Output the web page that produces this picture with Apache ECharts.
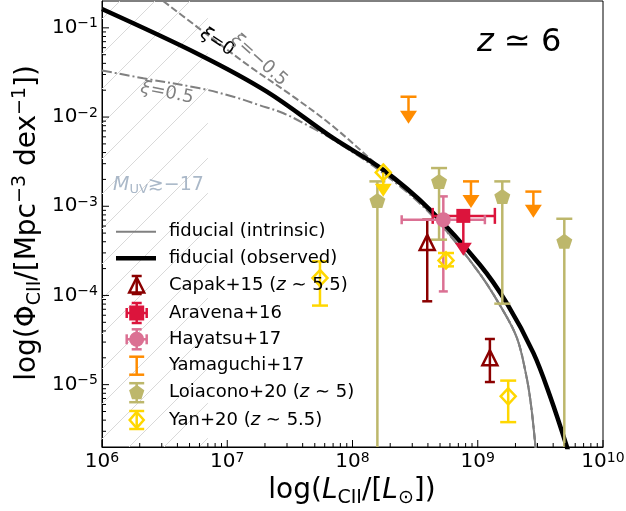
<!DOCTYPE html>
<html>
<head>
<meta charset="utf-8">
<script src="https://cdn.jsdelivr.net/npm/echarts@6.0.0/dist/echarts.min.js"></script>
<style>
html,body{margin:0;padding:0;background:#fff;}
#chart{width:626px;height:511px;}
</style>
</head>
<body>
<div id="chart"></div>
<script>
// ---------------- data ----------------
const xTickValues = [1e6, 1e7, 1e8, 1e9, 1e10];
const yTickValues = [1e-5, 1e-4, 1e-3, 1e-2, 1e-1];

// hatched region (M_UV >~ -17)
const hatchL = [1e6, 7e6];

// fiducial (observed)
const obsL   = [1.0e6, 6.05e6, 2.07e7, 7.03e7, 1.76e8, 4.16e8, 1.04e9, 1.70e9, 2.78e9, 3.78e9, 5.13e9, 5.5e9];
const obsPhi = [0.1626, 0.0497, 0.01928, 5.79e-3, 2.56e-3, 9.14e-4, 2.21e-4, 8.24e-5, 2.27e-5, 7.41e-6, 2.04e-6, 1.41e-6];
// fiducial (intrinsic)
const intL   = [1.0e6, 6.05e6, 2.07e7, 7.03e7, 1.76e8, 4.16e8, 9.82e8, 1.51e9, 2.05e9, 2.43e9, 2.66e9, 2.89e9, 2.99e9];
const intPhi = [0.1626, 0.0497, 0.01928, 5.79e-3, 2.52e-3, 8.7e-4, 1.95e-4, 7.69e-5, 3.37e-5, 1.30e-5, 5.98e-6, 2.04e-6, 1.26e-6];
// xi = -0.5
const xiMinusL   = [2.0e6, 7.28e6, 1.52e7, 3.37e7, 7.03e7, 1.76e8, 4.16e8, 9.82e8, 1.51e9, 2.05e9, 2.43e9, 2.66e9, 2.89e9, 2.99e9];
const xiMinusPhi = [0.318, 0.0796, 0.0367, 0.01694, 7.82e-3, 2.51e-3, 8.5e-4, 1.95e-4, 7.69e-5, 3.37e-5, 1.30e-5, 5.98e-6, 2.04e-6, 1.26e-6];
// xi = 0.5
const xiPlusL   = [1.0e6, 2.14e6, 6.05e6, 1.12e7, 1.78e7, 2.81e7, 4.47e7, 7.03e7, 1.76e8, 4.16e8, 9.82e8, 1.51e9, 2.05e9, 2.43e9, 2.66e9, 2.89e9, 2.99e9];
const xiPlusPhi = [0.0333, 0.0272, 0.0210, 0.0169, 0.01368, 0.01104, 7.94e-3, 5.55e-3, 2.34e-3, 8.3e-4, 1.95e-4, 7.69e-5, 3.37e-5, 1.30e-5, 5.98e-6, 2.04e-6, 1.26e-6];

// Capak+15 (z~5.5)
const capakL   = [3.95e8, 1.25e9];
const capakPhi = [3.93e-4, 2.0e-5];
const capakLo  = [8.6e-5, 1.07e-5];
const capakHi  = [7.06e-4, 3.25e-5];

// Aravena+16 (upper limit with L error)
const aravenaL    = [7.67e8];
const aravenaPhi  = [7.8e-4];
const aravenaLLo  = [4.37e8];
const aravenaLHi  = [1.37e9];
const aravenaTip  = [2.79e-4];

// Hayatsu+17
const hayatsuL    = [5.31e8];
const hayatsuPhi  = [7.06e-4];
const hayatsuLo   = [1.11e-4];
const hayatsuHi   = [1.29e-3];
const hayatsuLLo  = [2.47e8];
const hayatsuLHi  = [1.14e9];

// Yamaguchi+17 (upper limits)
const yamaL   = [2.8e8, 8.83e8, 2.78e9];
const yamaPhi = [1.69e-2, 1.9e-3, 1.46e-3];
const yamaTip = [8.4e-3, 9.55e-4, 7.43e-4];

// Loiacono+20 (z~5)  (lower bound 0 -> runs off the plot)
const loiaL   = [1.58e8, 4.91e8, 1.57e9, 4.91e9];
const loiaPhi = [1.16e-3, 1.9e-3, 1.29e-3, 4.04e-4];
const loiaLo  = [0, 4.22e-4, 8.09e-5, 0];
const loiaHi  = [1.9e-3, 2.68e-3, 1.9e-3, 7.24e-4];

// Yan+20 (z~5.5)
const yanL   = [5.5e7, 5.58e8, 1.75e9];
const yanPhi = [1.57e-4, 2.47e-4, 7.4e-6];
const yanLo  = [7.7e-5, 2.12e-4, 3.8e-6];
const yanHi  = [2.41e-4, 2.99e-4, 1.11e-5];
const yanUlL   = [1.76e8];
const yanUlPhi = [2.39e-3];
const yanUlTip = [1.28e-3];

// ---------------- chart ----------------
const F = 'DejaVu Sans';
const X0 = 1e6, X1 = 1e10, Y0 = 2e-6, Y1 = 0.2;
const C = {capak:'#8b0000', aravena:'#dc143c', hayatsu:'#db7093', yama:'#ff8c00', loia:'#bdb76b', yan:'#ffd700', gray:'#808080'};
const PENTA = 'path://M50,0 L97.55,34.55 L79.39,90.45 L20.61,90.45 L2.45,34.55 Z';

function seg(x1, y1, x2, y2, color, w) {
  return {type:'line', shape:{x1:x1, y1:y1, x2:x2, y2:y2}, style:{stroke:color, lineWidth:w, fill:null}};
}
function pairs(a, b) { return a.map((v, i) => [v, b[i]]); }

function errSeries(L, P, lo, hi, lLo, lHi, color, capY, capX, lw) {
  return {
    type:'custom', silent:true, clip:true, z:3, animation:false,
    data: pairs(L, P),
    renderItem: function (params, api) {
      const i = params.dataIndex;
      const c = api.coord([L[i], P[i]]);
      const ch = [];
      if (lo) {
        const yl = api.coord([L[i], lo[i] > 0 ? lo[i] : 1e-12])[1];
        const yh = api.coord([L[i], hi[i]])[1];
        ch.push(seg(c[0], yl, c[0], yh, color, lw));
        ch.push(seg(c[0] - capY/2, yl, c[0] + capY/2, yl, color, lw));
        ch.push(seg(c[0] - capY/2, yh, c[0] + capY/2, yh, color, lw));
      }
      if (lLo) {
        const xl = api.coord([lLo[i], P[i]])[0];
        const xh = api.coord([lHi[i], P[i]])[0];
        ch.push(seg(xl, c[1], xh, c[1], color, lw));
        ch.push(seg(xl, c[1] - capX/2, xl, c[1] + capX/2, color, lw));
        ch.push(seg(xh, c[1] - capX/2, xh, c[1] + capX/2, color, lw));
      }
      return {type:'group', children: ch};
    }
  };
}

function ulSeries(L, P, tip, color, cap, lw) {
  return {
    type:'custom', silent:true, clip:true, z:3, animation:false,
    data: pairs(L, P),
    renderItem: function (params, api) {
      const i = params.dataIndex;
      const c = api.coord([L[i], P[i]]);
      const t = api.coord([L[i], tip[i]])[1];
      const ch = [seg(c[0], c[1], c[0], t - 6, color, lw)];
      if (cap) ch.push(seg(c[0] - cap/2, c[1], c[0] + cap/2, c[1], color, lw));
      ch.push({type:'polygon', shape:{points:[[c[0]-8.5, t-13], [c[0]+8.5, t-13], [c[0], t]]}, style:{fill:color, stroke:null}});
      return {type:'group', children: ch};
    }
  };
}

function lineSeries(L, P, color, w, type, z) {
  return {
    type:'line', data: pairs(L, P), showSymbol:false, symbol:'none', smooth:0.35,
    clip:true, silent:true, z:z, animation:false,
    lineStyle:{color:color, width:w, type:type, cap:'butt'}
  };
}

function scatter(L, P, symbol, size, fill, stroke, bw) {
  return {
    type:'scatter', data: pairs(L, P), symbol:symbol, symbolSize:size, silent:true, z:5, animation:false, clip:true,
    itemStyle:{color:fill, borderColor:stroke, borderWidth:bw, opacity:1}
  };
}

// ticks (major + log minor), inward, on left and bottom
const tickSeries = {
  type:'custom', silent:true, clip:false, z:6, animation:false,
  data:[[1e8, 1e-3]],
  renderItem: function (params, api) {
    const ch = [];
    const o = api.coord([X0, Y0]);
    for (let d = 6; d < 10; d++) {
      for (let m = 2; m <= 9; m++) {
        const x = api.coord([m * Math.pow(10, d), Y0])[0];
        ch.push(seg(x, o[1], x, o[1] - 4, '#000', 1));
      }
    }
    xTickValues.forEach(v => { const x = api.coord([v, Y0])[0]; ch.push(seg(x, o[1], x, o[1] - 7, '#000', 1)); });
    for (let d = -6; d < 0; d++) {
      for (let m = 2; m <= 9; m++) {
        const v = m * Math.pow(10, d);
        if (v < Y0 * 1.0001 || v > Y1 * 0.9999) continue;
        const y = api.coord([X0, v])[1];
        ch.push(seg(o[0], y, o[0] + 4, y, '#000', 1));
      }
    }
    yTickValues.forEach(v => { const y = api.coord([X0, v])[1]; ch.push(seg(o[0], y, o[0] + 7, y, '#000', 1)); });
    return {type:'group', children: ch};
  }
};

// hatched region
const hatchSeries = {
  type:'custom', silent:true, clip:true, z:1, animation:false,
  data:[[hatchL[0], Y1]],
  renderItem: function (params, api) {
    const p0 = api.coord([hatchL[0], Y1]);
    const p1 = api.coord([hatchL[1], Y0]);
    const x0 = p0[0], y0 = p0[1], x1 = p1[0], y1 = p1[1];
    const ch = [];
    const step = 35;
    let cStart = 191 - Math.ceil((191 - (x0 + y0)) / step) * step;
    for (let c = cStart; c <= x1 + y1; c += step) {
      const lo = Math.max(x0, c - y1), hi = Math.min(x1, c - y0);
      if (lo < hi) ch.push(seg(lo, c - lo, hi, c - hi, '#d9d9d9', 1));
    }
    return {type:'group', children: ch};
  }
};

function powLabel(v) {
  const l = Math.log10(v), e = Math.round(l);
  if (Math.abs(l - e) > 0.01) return '';
  return '{b|10}{s|' + (e < 0 ? '\u2212' + (-e) : e) + '}';
}
const tickRich = {
  b:{fontFamily:F, fontSize:20, lineHeight:22, color:'#000'},
  s:{fontFamily:F, fontSize:14, lineHeight:8, verticalAlign:'top', color:'#000'}
};

// ---------------- text / legend graphics ----------------
const g = [];
function txt(x, y, text, rich, opts) {
  const o = Object.assign({type:'text', x:x, y:y, silent:true, z:20,
    style:{text:text, rich:rich, fontFamily:F, fill:'#000', align:'left', verticalAlign:'middle', textAlign:'left', textVerticalAlign:'middle'}}, opts || {});
  if (opts && opts.style) o.style = Object.assign({text:text, rich:rich, fontFamily:F, fill:'#000'}, opts.style);
  g.push(o);
}
function T(size, color, extra) { return Object.assign({fontFamily:F, fontSize:size, color:color, fill:color}, extra || {}); }

// axis titles
const titleRich = {
  n:T(28, '#000', {lineHeight:34}),
  i:T(28, '#000', {lineHeight:34, fontStyle:'italic'}),
  sub:T(19, '#000', {lineHeight:22, verticalAlign:'bottom'}),
  sup:T(19, '#000', {lineHeight:14, verticalAlign:'top'})
};
txt(352, 491, '{n|log(}{i|L}{sub|CII}{n|/[}{i|L}{sub|\u2299}{n|])}', titleRich,
  {style:{align:'center', verticalAlign:'middle', textAlign:'center', textVerticalAlign:'middle'}});
txt(28, 223, '{n|log(\u03A6}{sub|CII}{n|/[Mpc}{sup|\u22123}{n| dex}{sup|\u22121}{n|])}', titleRich,
  {rotation:Math.PI/2, style:{align:'center', verticalAlign:'middle', textAlign:'center', textVerticalAlign:'middle'}});

// z ~ 6
txt(477, 43, '{i|z}{n| \u2243 6}', {i:T(32, '#000', {fontStyle:'italic'}), n:T(32, '#000')});

// xi labels
const xiRich = (col) => ({i:T(18, col, {fontStyle:'italic'}), n:T(18, col)});
txt(217, 42, '{i|\u03BE}{n|=0}', xiRich('#000'),
  {rotation:-0.58, style:{align:'center', verticalAlign:'middle', textAlign:'center', textVerticalAlign:'middle'}});
txt(259, 60, '{i|\u03BE}{n|=\u22120.5}', xiRich(C.gray),
  {rotation:-0.73, style:{align:'center', verticalAlign:'middle', textAlign:'center', textVerticalAlign:'middle'}});
txt(167, 93, '{i|\u03BE}{n|=0.5}', xiRich(C.gray),
  {rotation:-0.2, style:{align:'center', verticalAlign:'middle', textAlign:'center', textVerticalAlign:'middle'}});

// M_UV label
const muv = '#aab8c8';
txt(113, 185, '{i|M}{sub|UV}{n|\u2273\u221217}',
  {i:T(19, muv, {fontStyle:'italic', lineHeight:22}), n:T(19, muv, {lineHeight:22}), sub:T(13, muv, {lineHeight:14, verticalAlign:'bottom'})});

// legend
const LX = 136.7, TX = 169;
const rows = [231.7, 258.3, 285, 313, 339.3, 365.7, 392.7, 420];
const legRich = {n:T(18, '#000'), i:T(18, '#000', {fontStyle:'italic'})};
function gl(el) { el.silent = true; el.z = 20; g.push(el); }
function gseg(x1, y1, x2, y2, c, w) { gl(seg(x1, y1, x2, y2, c, w)); }
function vbar(y, half, cap, c, w) {
  gseg(LX, y - half, LX, y + half, c, w);
  gseg(LX - cap/2, y - half, LX + cap/2, y - half, c, w);
  gseg(LX - cap/2, y + half, LX + cap/2, y + half, c, w);
}
function hbar(y, half, cap, c, w) {
  gseg(LX - half, y, LX + half, y, c, w);
  gseg(LX - half, y - cap/2, LX - half, y + cap/2, c, w);
  gseg(LX + half, y - cap/2, LX + half, y + cap/2, c, w);
}
gseg(116, rows[0], 156, rows[0], C.gray, 2);
gseg(116, rows[1], 156, rows[1], '#000', 4.5);
// Capak
vbar(rows[2], 9, 10, C.capak, 2.5);
gl({type:'polygon', shape:{points:[[LX, rows[2]-7.5], [LX+7.5, rows[2]+7.5], [LX-7.5, rows[2]+7.5]]}, style:{fill:null, stroke:C.capak, lineWidth:2.5}});
// Aravena
vbar(rows[3], 10, 10, C.aravena, 2.5);
hbar(rows[3], 10, 10, C.aravena, 2.5);
gl({type:'rect', shape:{x:LX-7.5, y:rows[3]-7.5, width:15, height:15}, style:{fill:C.aravena}});
// Hayatsu
vbar(rows[4], 10, 10, C.hayatsu, 2.5);
hbar(rows[4], 10, 10, C.hayatsu, 2.5);
gl({type:'circle', shape:{cx:LX, cy:rows[4], r:7.5}, style:{fill:C.hayatsu}});
// Yamaguchi
vbar(rows[5], 9, 15, C.yama, 2.5);
// Loiacono
vbar(rows[6], 9.5, 15, C.loia, 2.5);
gl({type:'polygon', shape:{points:[[LX, rows[6]-8], [LX+7.6, rows[6]-2.5], [LX+4.7, rows[6]+6.5], [LX-4.7, rows[6]+6.5], [LX-7.6, rows[6]-2.5]]}, style:{fill:C.loia}});
// Yan
vbar(rows[7], 9, 15, C.yan, 2.5);
gl({type:'polygon', shape:{points:[[LX, rows[7]-8], [LX+7, rows[7]], [LX, rows[7]+8], [LX-7, rows[7]]]}, style:{fill:null, stroke:C.yan, lineWidth:2.5}});

const legTexts = [
  '{n|fiducial (intrinsic)}',
  '{n|fiducial (observed)}',
  '{n|Capak+15 (}{i|z}{n| \u223C 5.5)}',
  '{n|Aravena+16}',
  '{n|Hayatsu+17}',
  '{n|Yamaguchi+17}',
  '{n|Loiacono+20 (}{i|z}{n| \u223C 5)}',
  '{n|Yan+20 (}{i|z}{n| \u223C 5.5)}'
];
legTexts.forEach((t, k) => txt(TX, rows[k], t, legRich));

// ---------------- option ----------------
const option = {
  animation:false,
  backgroundColor:'#fff',
  grid:{left:102, top:1, right:23, bottom:64, show:true, borderColor:'#000', borderWidth:1, backgroundColor:'transparent', containLabel:false, outerBoundsMode:'none'},
  xAxis:{
    type:'log', logBase:10, min:X0, max:X1,
    axisLine:{show:true, lineStyle:{color:'#000', width:1}},
    axisTick:{show:false}, splitLine:{show:false}, minorTick:{show:false},
    axisLabel:{show:true, margin:4, formatter:powLabel, rich:tickRich, showMinLabel:true, showMaxLabel:true, hideOverlap:false}
  },
  yAxis:{
    type:'log', logBase:10, min:Y0, max:Y1,
    axisLine:{show:true, lineStyle:{color:'#000', width:1}},
    axisTick:{show:false}, splitLine:{show:false}, minorTick:{show:false},
    axisLabel:{show:true, margin:4, formatter:powLabel, rich:tickRich, showMinLabel:false, showMaxLabel:false, hideOverlap:false}
  },
  graphic:g,
  series:[
    hatchSeries,
    lineSeries(intL, intPhi, C.gray, 2, 'solid', 2),
    lineSeries(xiMinusL, xiMinusPhi, C.gray, 2, [7, 3], 2),
    lineSeries(xiPlusL, xiPlusPhi, C.gray, 2, [10, 3, 2, 3], 2),
    lineSeries(obsL, obsPhi, '#000', 4.5, 'solid', 2.5),
    errSeries(capakL, capakPhi, capakLo, capakHi, null, null, C.capak, 10, 0, 2.5),
    errSeries(aravenaL, aravenaPhi, null, null, aravenaLLo, aravenaLHi, C.aravena, 0, 16, 2.5),
    ulSeries(aravenaL, aravenaPhi, aravenaTip, C.aravena, 0, 2.5),
    errSeries(hayatsuL, hayatsuPhi, hayatsuLo, hayatsuHi, hayatsuLLo, hayatsuLHi, C.hayatsu, 9, 9, 2.5),
    ulSeries(yamaL, yamaPhi, yamaTip, C.yama, 16, 2.5),
    errSeries(loiaL, loiaPhi, loiaLo, loiaHi, null, null, C.loia, 16, 0, 2.5),
    errSeries(yanL, yanPhi, yanLo, yanHi, null, null, C.yan, 16, 0, 2.5),
    ulSeries(yanUlL, yanUlPhi, yanUlTip, C.yan, 0, 2.5),
    scatter(capakL, capakPhi, 'triangle', [15, 15], 'rgba(255,255,255,0)', C.capak, 2.5),
    scatter(aravenaL, aravenaPhi, 'rect', [14, 14], C.aravena, C.aravena, 0),
    scatter(hayatsuL, hayatsuPhi, 'circle', [15, 15], C.hayatsu, C.hayatsu, 0),
    scatter(loiaL, loiaPhi, PENTA, [16, 15], C.loia, C.loia, 0),
    scatter(yanL, yanPhi, 'diamond', [15, 16], 'rgba(255,255,255,0)', C.yan, 2.5),
    scatter(yanUlL, yanUlPhi, 'diamond', [15, 16], 'rgba(255,255,255,0)', C.yan, 2.5),
    tickSeries
  ]
};
const chart = echarts.init(document.getElementById('chart'), null, {renderer:'canvas'});
chart.setOption(option);
</script>
</body>
</html>
